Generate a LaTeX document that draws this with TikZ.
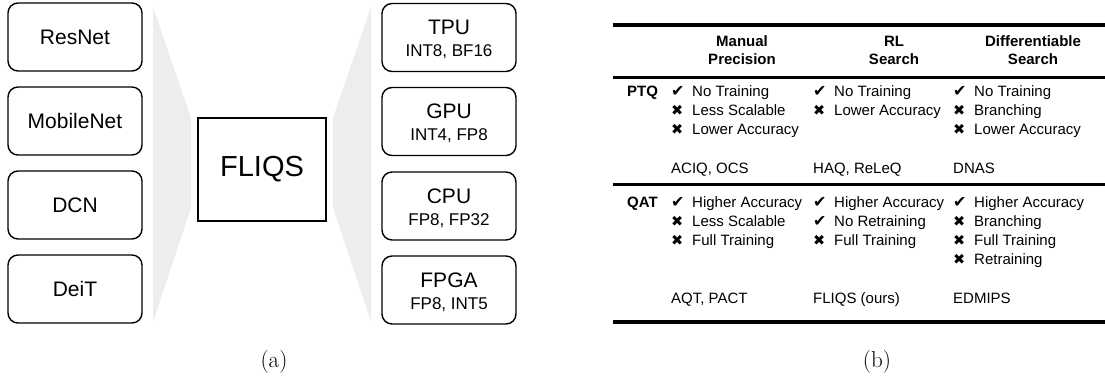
\documentclass[tikz,border=0pt]{standalone}
\usepackage{fontspec}
\newfontfamily\arial{Liberation Sans}
\newfontfamily\symfont{DejaVu Sans}
\newcommand\ck{{\symfont\fontsize{16}{16}\selectfont ✔}}
\newcommand\xx{{\symfont\fontsize{14.5}{14.5}\selectfont ✖}}
\newcommand\itm[5]{%
  \node[symcell] (#1s) at (#2,#3) {#4};
  \node[cell] (#1) at (#2+21,#3) {#5};}
\begin{document}
\begin{tikzpicture}[x=1pt,y=-1pt,
  mbox/.style={draw, line width=1.4pt, rounded corners=10pt,
    minimum width=134pt, minimum height=68pt, inner sep=0pt},
  ltext/.style={font=\arial\fontsize{21}{25}\selectfont},
  htitle/.style={anchor=base, inner sep=0pt, font=\arial\fontsize{21}{25}\selectfont},
  hsub/.style={anchor=base, inner sep=0pt, font=\arial\fontsize{17}{20}\selectfont},
  flbox/.style={draw, line width=1.3pt, minimum width=128pt, minimum height=103pt,
    inner sep=0pt, font=\arial\fontsize{29}{34}\selectfont},
  funnel/.style={fill=black!7},
  hdr/.style={anchor=base, inner sep=0pt, font=\arial\bfseries\fontsize{15}{18}\selectfont},
  cell/.style={anchor=base west, inner sep=0pt, font=\arial\fontsize{15}{18}\selectfont},
  symcell/.style={anchor=base west, inner sep=0pt},
  captext/.style={anchor=base, inner sep=0pt, font=\fontsize{23}{27}\selectfont}]
\useasboundingbox (0,0) rectangle (1105,377);
% funnels
\fill[funnel] (153,7) -- (191,118) -- (191,208) -- (153,322) -- cycle;
\fill[funnel] (333,118) -- (371,7) -- (371,322) -- (333,208) -- cycle;
% left boxes
\node[mbox, ltext] (resnet) at (75,37) {ResNet};
\node[mbox, ltext] (mobilenet) at (75,121) {MobileNet};
\node[mbox, ltext] (dcn) at (75,205) {DCN};
\node[mbox, ltext] (deit) at (75,289) {DeiT};
% center
\node[flbox] (fliqs) at (262,169.5) {FLIQS};
% right boxes
\node[mbox] (tpu) at (449,37.5) {};
\node[htitle] (tput) at ([yshift=-32pt]tpu.north) {TPU};
\node[hsub] (tpus) at ([yshift=-54pt]tpu.north) {INT8, BF16};
\node[mbox] (gpu) at (449,121.5) {};
\node[htitle] (gput) at ([yshift=-32pt]gpu.north) {GPU};
\node[hsub] (gpus) at ([yshift=-54pt]gpu.north) {INT4, FP8};
\node[mbox] (cpu) at (449,206) {};
\node[htitle] (cput) at ([yshift=-32pt]cpu.north) {CPU};
\node[hsub] (cpus) at ([yshift=-54pt]cpu.north) {FP8, FP32};
\node[mbox] (fpga) at (449,290) {};
\node[htitle] (fpgat) at ([yshift=-32pt]fpga.north) {FPGA};
\node[hsub] (fpgas) at ([yshift=-54pt]fpga.north) {FP8, INT5};
% table rules
\draw[line width=4pt] (613,25) -- (1105,25);
\draw[line width=2.6pt] (613,77.5) -- (1105,77.5);
\draw[line width=2.6pt] (613,184.5) -- (1105,184.5);
\draw[line width=4pt] (613,321.5) -- (1105,321.5);
% headers
\node[hdr] (h1a) at (742,47) {Manual};
\node[hdr] (h1b) at (742,65) {Precision};
\node[hdr] (h2a) at (894,47) {RL};
\node[hdr] (h2b) at (894,65) {Search};
\node[hdr] (h3a) at (1033,47) {Differentiable};
\node[hdr] (h3b) at (1033,65) {Search};
% PTQ
\node[hdr, anchor=base west] (ptq) at (627,97) {PTQ};
\itm{pa1}{671}{97}{\ck}{No Training}
\itm{pa2}{671}{116}{\xx}{Less Scalable}
\itm{pa3}{671}{135}{\xx}{Lower Accuracy}
\itm{pb1}{813}{97}{\ck}{No Training}
\itm{pb2}{813}{116}{\xx}{Lower Accuracy}
\itm{pc1}{953}{97}{\ck}{No Training}
\itm{pc2}{953}{116}{\xx}{Branching}
\itm{pc3}{953}{135}{\xx}{Lower Accuracy}
\node[cell] (pra) at (671,173) {ACIQ, OCS};
\node[cell] (prb) at (813,173) {HAQ, ReLeQ};
\node[cell] (prc) at (953,173) {DNAS};
% QAT
\node[hdr, anchor=base west] (qat) at (627,207) {QAT};
\itm{qa1}{671}{207}{\ck}{Higher Accuracy}
\itm{qa2}{671}{226}{\xx}{Less Scalable}
\itm{qa3}{671}{245}{\xx}{Full Training}
\itm{qb1}{813}{207}{\ck}{Higher Accuracy}
\itm{qb2}{813}{226}{\ck}{No Retraining}
\itm{qb3}{813}{245}{\xx}{Full Training}
\itm{qc1}{953}{207}{\ck}{Higher Accuracy}
\itm{qc2}{953}{226}{\xx}{Branching}
\itm{qc3}{953}{245}{\xx}{Full Training}
\itm{qc4}{953}{264}{\xx}{Retraining}
\node[cell] (qra) at (671,303) {AQT, PACT};
\node[cell] (qrb) at (813,303) {FLIQS (ours)};
\node[cell] (qrc) at (953,303) {EDMIPS};
% captions
\node[captext] (capa) at (274,367) {(a)};
\node[captext] (capb) at (877,367) {(b)};
\end{tikzpicture}
\end{document}
